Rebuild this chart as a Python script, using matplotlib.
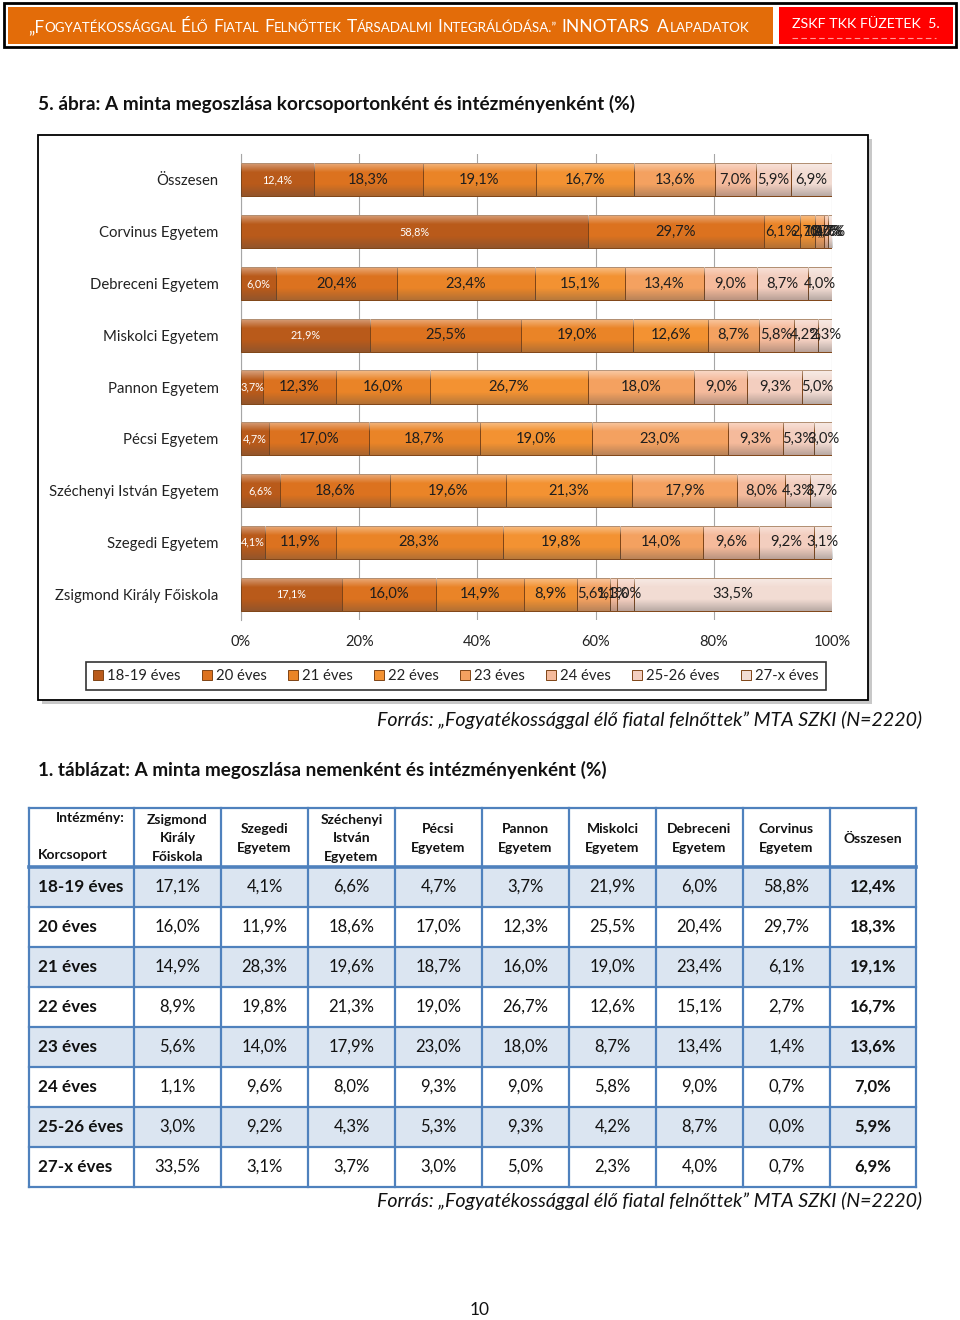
import matplotlib
matplotlib.use("Agg")
import matplotlib.pyplot as plt
from matplotlib.patches import Rectangle
import numpy as np

FONT = "Lato"
plt.rcParams['font.family'] = [FONT, 'DejaVu Sans']

# ---------------- data ----------------
institutions = ["Összesen", "Corvinus Egyetem", "Debreceni Egyetem", "Miskolci Egyetem",
                "Pannon Egyetem", "Pécsi Egyetem", "Széchenyi István Egyetem",
                "Szegedi Egyetem", "Zsigmond Király Főiskola"]
age_groups = ["18-19 éves", "20 éves", "21 éves", "22 éves", "23 éves",
              "24 éves", "25-26 éves", "27-x éves"]
osszesen   = [12.4, 18.3, 19.1, 16.7, 13.6, 7.0, 5.9, 6.9]
corvinus   = [58.8, 29.7, 6.1, 2.7, 1.4, 0.7, 0.0, 0.7]
debreceni  = [6.0, 20.4, 23.4, 15.1, 13.4, 9.0, 8.7, 4.0]
miskolci   = [21.9, 25.5, 19.0, 12.6, 8.7, 5.8, 4.2, 2.3]
pannon     = [3.7, 12.3, 16.0, 26.7, 18.0, 9.0, 9.3, 5.0]
pecsi      = [4.7, 17.0, 18.7, 19.0, 23.0, 9.3, 5.3, 3.0]
szechenyi  = [6.6, 18.6, 19.6, 21.3, 17.9, 8.0, 4.3, 3.7]
szegedi    = [4.1, 11.9, 28.3, 19.8, 14.0, 9.6, 9.2, 3.1]
zsigmond   = [17.1, 16.0, 14.9, 8.9, 5.6, 1.1, 3.0, 33.5]
x_ticks = [0, 20, 40, 60, 80, 100]

table_cols = ["Zsigmond\nKirály\nFőiskola", "Szegedi\nEgyetem", "Széchenyi\nIstván\nEgyetem",
              "Pécsi\nEgyetem", "Pannon\nEgyetem", "Miskolci\nEgyetem",
              "Debreceni\nEgyetem", "Corvinus\nEgyetem", "Összesen"]
table_data = [zsigmond, szegedi, szechenyi, pecsi, pannon, miskolci, debreceni, corvinus, osszesen]

chart_rows = [osszesen, corvinus, debreceni, miskolci, pannon, pecsi, szechenyi, szegedi, zsigmond]

colors = ["#b95a1a", "#dc721f", "#ea8427", "#f39232", "#f4a160", "#f5ba9b", "#f3cebf", "#f2dcd3"]
edge = "#7f4416"

def pct(v):
    return f"{v:.1f}%".replace(".", ",")

W, H = 960, 1320
fig = plt.figure(figsize=(W / 100, H / 100), dpi=100)
bg = fig.add_axes([0, 0, 1, 1], zorder=0)
bg.set_xlim(0, W)
bg.set_ylim(H, 0)
bg.axis("off")

# ---------------- header ----------------
bg.add_patch(Rectangle((4, 3), 952, 44, fill=False, edgecolor="black", lw=2))
bg.add_patch(Rectangle((8, 7), 765, 37, facecolor="#e36c09", edgecolor="none"))
bg.add_patch(Rectangle((779, 7), 174, 37, facecolor="#ff0000", edgecolor="none"))

fig.canvas.draw()
renderer = fig.canvas.get_renderer()
BIG, SMALL = 12.5, 9.6
segments = [("„F", BIG), ("OGYATÉKOSSÁGGAL", SMALL), (" ", BIG), ("É", BIG), ("LŐ", SMALL), (" ", BIG),
            ("F", BIG), ("IATAL", SMALL), (" ", BIG), ("F", BIG), ("ELNŐTTEK", SMALL), (" ", BIG),
            ("T", BIG), ("ÁRSADALMI", SMALL), (" ", BIG), ("I", BIG), ("NTEGRÁLÓDÁSA.”", SMALL),
            (" ", BIG), ("INNOTARS", BIG), (" ", BIG), (" ", BIG), ("A", BIG), ("LAPADATOK", SMALL)]
xcur = 28
for s, sz in segments:
    if s == " ":
        xcur += sz * 0.24 * 100 / 72
        continue
    t = bg.text(xcur, 32, s, fontsize=sz, color="white", ha="left", va="baseline")
    bb = t.get_window_extent(renderer=renderer)
    xcur = bb.x1 + 0.2
bg.text(792, 28, "ZSKF TKK FÜZETEK  5.", fontsize=10.3, color="white", ha="left", va="baseline")
bg.plot([792, 936], [38, 38], color="#ff9a9a", lw=0.8, ls=(0, (5, 3)))

# ---------------- chart title & box ----------------
bg.text(38, 104, "5. ábra: A minta megoszlása korcsoportonként és intézményenként (%)",
        fontsize=13.7, fontweight="bold", ha="left", va="center", color="#111111")
bg.add_patch(Rectangle((42, 139), 830, 565, facecolor="#c8c8c8", edgecolor="none"))
bg.add_patch(Rectangle((38, 135), 830, 565, facecolor="white", edgecolor="black", lw=1.3))

# chart axes
left_px, right_px, top_px, bot_px = 241, 832, 154, 620
ax = fig.add_axes([left_px / W, 1 - bot_px / H, (right_px - left_px) / W, (bot_px - top_px) / H], zorder=2)
ax.patch.set_alpha(0)
data = np.array(chart_rows, dtype=float)
norm = data / data.sum(axis=1, keepdims=True) * 100
ypos = np.arange(len(institutions))
lefts = np.zeros(len(institutions))
handles = []
BAR_H = 0.64

# bevel shading profile (top highlight, bottom shadow)
prof = np.linspace(0, 1, 64)
grad = np.zeros((64, 1, 4))
hi = np.clip(1 - prof / 0.3, 0, 1) * 0.45
lo = np.clip((prof - 0.65) / 0.35, 0, 1) * 0.35
grad[:, 0, :3] = np.where(hi[:, None] > 0, 1.0, 0.3)
grad[:, 0, 3] = hi + lo

for j, ag in enumerate(age_groups):
    cont = ax.barh(ypos, norm[:, j], left=lefts, height=BAR_H, color=colors[j],
                   edgecolor=edge, linewidth=0.7, label=ag, zorder=3)
    handles.append(cont)
    for p in cont.patches:
        x0, y0 = p.get_x(), p.get_y()
        w, h = p.get_width(), p.get_height()
        if w <= 0:
            continue
        im = ax.imshow(grad, extent=(x0, x0 + w, y0 + h, y0), aspect="auto",
                       origin="upper", zorder=3.2, interpolation="bilinear")
        im.set_clip_path(p)
    labs = [pct(v) for v in data[:, j]]
    if j == 0:
        ax.bar_label(cont, labels=labs, label_type="center", fontsize=7.8, color="white", zorder=4)
    else:
        ax.bar_label(cont, labels=labs, label_type="center", fontsize=10.6, color="#1e1e1e", zorder=4)
    lefts += norm[:, j]

ax.set_xlim(0, 100)
ax.set_ylim(len(institutions) - 0.5, -0.5)
ax.set_aspect("auto")
ax.set_xticks(x_ticks)
ax.set_xticklabels([f"{v}%" for v in x_ticks], fontsize=10.5, color="#222222")
ax.set_yticks(ypos)
ax.set_yticklabels(institutions, fontsize=10.7, color="#222222")
ax.tick_params(axis="both", length=0)
ax.tick_params(axis="y", pad=16)
ax.tick_params(axis="x", pad=11)
ax.grid(axis="x", color="#a6a6a6", lw=0.8, zorder=0)
for sp in ["top", "right", "bottom"]:
    ax.spines[sp].set_visible(False)
ax.spines["left"].set_color("#a6a6a6")
ax.spines["left"].set_linewidth(0.8)

leg = fig.legend(handles=handles, labels=age_groups, loc="center",
                 bbox_to_anchor=(456 / W, 1 - 676 / H), ncol=8, frameon=True, fancybox=False,
                 edgecolor="black", fontsize=10.7, handlelength=0.65, handleheight=0.65,
                 handletextpad=0.3, columnspacing=1.42, borderpad=0.45)
leg.get_frame().set_linewidth(1.2)
for tx in leg.get_texts():
    tx.set_color("#222222")

bg.text(922, 720, "Forrás: „Fogyatékossággal élő fiatal felnőttek” MTA SZKI (N=2220)",
        fontsize=14.1, style="italic", ha="right", va="center", color="#111111")

# ---------------- table ----------------
bg.text(38, 770, "1. táblázat: A minta megoszlása nemenként és intézményenként (%)",
        fontsize=13.6, fontweight="bold", ha="left", va="center", color="#111111")

col_edges = [29, 134, 221, 308, 395, 482, 569, 656, 743, 830, 916]
head_top, head_bot, row_h = 808, 867, 40
blue = "#4f81bd"
shade = "#dbe5f1"
n_rows = len(age_groups)
for i in range(n_rows):
    y0 = head_bot + i * row_h
    if i % 2 == 0:
        bg.add_patch(Rectangle((col_edges[0], y0), col_edges[-1] - col_edges[0], row_h,
                               facecolor=shade, edgecolor="none"))
    yc = y0 + row_h / 2
    bg.text(38, yc, age_groups[i], fontsize=12.3, fontweight="bold", ha="left", va="center", color="#111111")
    for c in range(len(table_cols)):
        xc = (col_edges[c + 1] + col_edges[c + 2]) / 2
        bg.text(xc, yc, pct(table_data[c][i]), fontsize=12,
                fontweight="bold" if c == len(table_cols) - 1 else "normal",
                ha="center", va="center", color="#111111")

bottom = head_bot + n_rows * row_h
for x in col_edges:
    bg.plot([x, x], [head_top, bottom], color=blue, lw=1.6, solid_capstyle="projecting")
bg.plot([col_edges[0], col_edges[-1]], [head_top, head_top], color=blue, lw=1.6)
bg.plot([col_edges[0], col_edges[-1]], [head_bot, head_bot], color=blue, lw=2.6)
for i in range(1, n_rows + 1):
    y = head_bot + i * row_h
    bg.plot([col_edges[0], col_edges[-1]], [y, y], color=blue, lw=1.6)

bg.text(125, 818, "Intézmény:", fontsize=10, fontweight="bold", ha="right", va="center", color="#111111")
bg.text(38, 855, "Korcsoport", fontsize=10, fontweight="bold", ha="left", va="center", color="#111111")
for c, name in enumerate(table_cols):
    xc = (col_edges[c + 1] + col_edges[c + 2]) / 2
    bg.text(xc, (head_top + head_bot) / 2 + 1, name, fontsize=10, fontweight="bold",
            ha="center", va="center", linespacing=1.65, color="#111111")

bg.text(922, 1201, "Forrás: „Fogyatékossággal élő fiatal felnőttek” MTA SZKI (N=2220)",
        fontsize=14.1, style="italic", ha="right", va="center", color="#111111")
bg.text(480, 1310, "10", fontsize=12.5, ha="center", va="center", color="#111111")

fig.savefig("out.png", dpi=100)
